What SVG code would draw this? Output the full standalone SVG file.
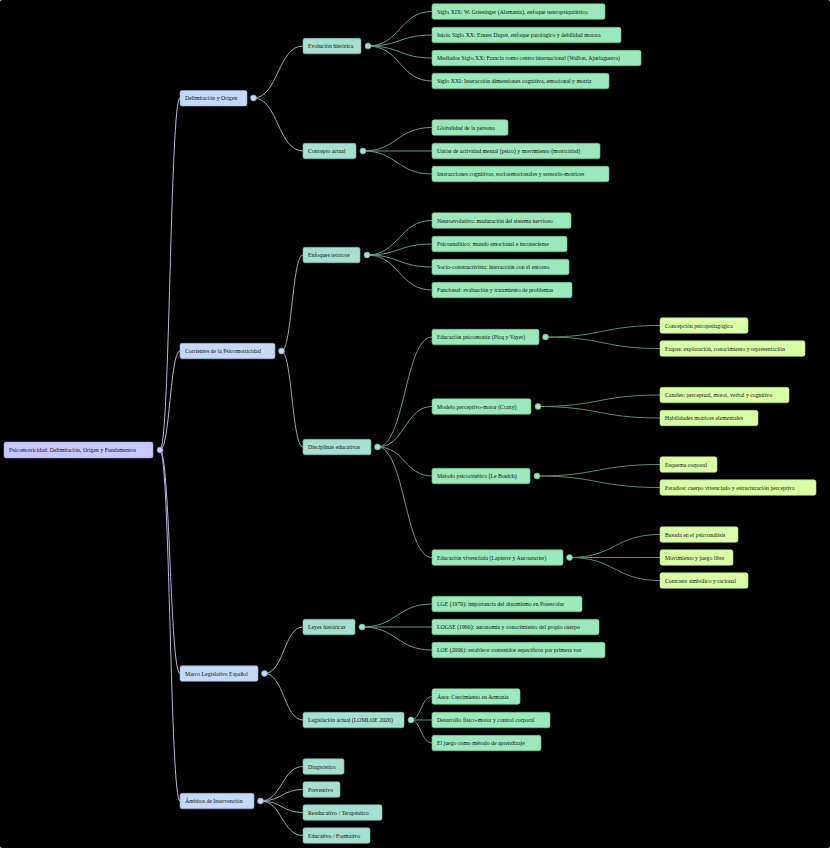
<svg xmlns="http://www.w3.org/2000/svg" width="830" height="848" viewBox="0 0 830 848">
<style>
text{font-family:"Liberation Serif","Times New Roman",serif;font-size:5.8px;fill:#111;dominant-baseline:central}
rect{rx:2;ry:2;stroke-width:0.6}
.r0 rect{fill:#c8c8ff;stroke:#9c9cde}
.r1 rect{fill:#c5d9f6;stroke:#93aed6}
.r2 rect{fill:#a5dfd1;stroke:#78bba9}
.r3 rect{fill:#9ce8bd;stroke:#6cc290}
.r4 rect{fill:#d9ffa7;stroke:#aed677}
circle{stroke-width:0.7}
.r0 circle{fill:#c8c8ff;stroke:#7f7fc0}
.r1 circle{fill:#c5d9f6;stroke:#7f97c0}
.r2 circle{fill:#a5dfd1;stroke:#6aa898}
.r3 circle{fill:#9ce8bd;stroke:#5aa878}
path{fill:none;stroke-width:1}
.l0{stroke:#b8b8de}
.l1{stroke:#9aa8ac}
.l2{stroke:#6f988c}
.l3{stroke:#5f8c6e}
</style>
<rect width="830" height="848" fill="#000"/>
<g id="connectors">
<path class="l0" d="M160,450 C170,450 170,98 180,98"/>
<path class="l0" d="M160,450 C170,450 170,351 180,351"/>
<path class="l0" d="M160,450 C170,450 170,673.5 180,673.5"/>
<path class="l0" d="M160,450 C170,450 170,801 180,801"/>
<path class="l1" d="M253.5,98 C278,98 278,46 303,46"/>
<path class="l1" d="M253.5,98 C278,98 278,151 303,151"/>
<path class="l1" d="M281.5,351 C292,351 292,255 303,255"/>
<path class="l1" d="M281.5,351 C292,351 292,447 303,447"/>
<path class="l1" d="M264.5,673.5 C284,673.5 284,627 303,627"/>
<path class="l1" d="M264.5,673.5 C284,673.5 284,720 303,720"/>
<path class="l1" d="M260.5,801 C282,801 282,766.5 303,766.5"/>
<path class="l1" d="M260.5,801 C282,801 282,789.5 303,789.5"/>
<path class="l1" d="M260.5,801 C282,801 282,812.5 303,812.5"/>
<path class="l1" d="M260.5,801 C282,801 282,835.5 303,835.5"/>
<path class="l2" d="M368,46 C400,46 400,11.5 432,11.5"/>
<path class="l2" d="M368,46 C400,46 400,35 432,35"/>
<path class="l2" d="M368,46 C400,46 400,58 432,58"/>
<path class="l2" d="M368,46 C400,46 400,81 432,81"/>
<path class="l2" d="M363,151 C397,151 397,127.5 432,127.5"/>
<path class="l2" d="M363,151 C397,151 397,151 432,151"/>
<path class="l2" d="M363,151 C397,151 397,174 432,174"/>
<path class="l2" d="M367,255 C399,255 399,220.5 432,220.5"/>
<path class="l2" d="M367,255 C399,255 399,244 432,244"/>
<path class="l2" d="M367,255 C399,255 399,267 432,267"/>
<path class="l2" d="M367,255 C399,255 399,290 432,290"/>
<path class="l2" d="M377.5,447 C405,447 405,337 432,337"/>
<path class="l2" d="M377.5,447 C405,447 405,406.5 432,406.5"/>
<path class="l2" d="M377.5,447 C405,447 405,476 432,476"/>
<path class="l2" d="M377.5,447 C405,447 405,557.5 432,557.5"/>
<path class="l2" d="M362,627 C397,627 397,604 432,604"/>
<path class="l2" d="M362,627 C397,627 397,627 432,627"/>
<path class="l2" d="M362,627 C397,627 397,650 432,650"/>
<path class="l2" d="M411,720 C421,720 421,696.5 432,696.5"/>
<path class="l2" d="M411,720 C421,720 421,720 432,720"/>
<path class="l2" d="M411,720 C421,720 421,743 432,743"/>
<path class="l3" d="M545.5,337 C603,337 603,325.5 660,325.5"/>
<path class="l3" d="M545.5,337 C603,337 603,348.5 660,348.5"/>
<path class="l3" d="M538,406.5 C599,406.5 599,395 660,395"/>
<path class="l3" d="M538,406.5 C599,406.5 599,418 660,418"/>
<path class="l3" d="M537,476 C598,476 598,464.5 660,464.5"/>
<path class="l3" d="M537,476 C598,476 598,487.5 660,487.5"/>
<path class="l3" d="M569.5,557.5 C615,557.5 615,534.5 660,534.5"/>
<path class="l3" d="M569.5,557.5 C615,557.5 615,557.5 660,557.5"/>
<path class="l3" d="M569.5,557.5 C615,557.5 615,580.5 660,580.5"/>
</g>
<g id="root" class="r0"><rect x="4" y="442" width="149" height="16"/><text x="9" y="450">Psicomotricidad: Delimitación, Origen y Fundamentos</text><circle cx="160" cy="450" r="3"/></g>
<g id="n-delim" class="r1"><rect x="180" y="90.5" width="67" height="15.5"/><text x="185" y="98">Delimitación y Origen</text><circle cx="253.5" cy="98" r="3"/></g>
<g id="n-corr" class="r1"><rect x="180" y="343.3" width="95" height="15.5"/><text x="185" y="351">Corrientes de la Psicomotricidad</text><circle cx="281.5" cy="351" r="3"/></g>
<g id="n-marco" class="r1"><rect x="180" y="665.8" width="78" height="15.5"/><text x="185" y="673.5">Marco Legislativo Español</text><circle cx="264.5" cy="673.5" r="3"/></g>
<g id="n-ambitos" class="r1"><rect x="180" y="793.3" width="74" height="15.5"/><text x="185" y="801">Ámbitos de Intervención</text><circle cx="260.5" cy="801" r="3"/></g>
<g id="n-evol" class="r2"><rect x="303" y="38.3" width="58" height="15.5"/><text x="308" y="46">Evolución histórica</text><circle cx="368" cy="46" r="3"/></g>
<g id="n-conc" class="r2"><rect x="303" y="143.3" width="53" height="15.5"/><text x="308" y="151">Concepto actual</text><circle cx="363" cy="151" r="3"/></g>
<g id="n-enf" class="r2"><rect x="303" y="247.3" width="57" height="15.5"/><text x="308" y="255">Enfoques teóricos</text><circle cx="367" cy="255" r="3"/></g>
<g id="n-disc" class="r2"><rect x="303" y="439.3" width="68" height="15.5"/><text x="308" y="447">Disciplinas educativas</text><circle cx="377.5" cy="447" r="3"/></g>
<g id="n-leyes" class="r2"><rect x="303" y="619.3" width="52" height="15.5"/><text x="308" y="627">Leyes históricas</text><circle cx="362" cy="627" r="3"/></g>
<g id="n-legis" class="r2"><rect x="303" y="712.3" width="101" height="15.5"/><text x="308" y="720">Legislación actual (LOMLOE 2020)</text><circle cx="411" cy="720" r="3"/></g>
<g id="n-diag" class="r2"><rect x="303" y="758.8" width="41" height="15.5"/><text x="308" y="766.5">Diagnóstico</text></g>
<g id="n-prev" class="r2"><rect x="303" y="781.8" width="37" height="15.5"/><text x="308" y="789.5">Preventivo</text></g>
<g id="n-reed" class="r2"><rect x="303" y="804.8" width="79" height="15.5"/><text x="308" y="812.5">Reeducativo / Terapéutico</text></g>
<g id="n-educ" class="r2"><rect x="303" y="827.8" width="67" height="15.5"/><text x="308" y="835.5">Educativo / Formativo</text></g>
<g id="n-e1" class="r3"><rect x="432" y="3.8" width="173" height="15.5"/><text x="437" y="11.5">Siglo XIX: W. Griesinger (Alemania), enfoque neuropsiquiátrico</text></g>
<g id="n-e2" class="r3"><rect x="432" y="27.3" width="189" height="15.5"/><text x="437" y="35">Inicio Siglo XX: Ernest Dupré, enfoque patológico y debilidad motora</text></g>
<g id="n-e3" class="r3"><rect x="432" y="50.3" width="209" height="15.5"/><text x="437" y="58">Mediados Siglo XX: Francia como centro internacional (Wallon, Ajuriaguerra)</text></g>
<g id="n-e4" class="r3"><rect x="432" y="73.3" width="177" height="15.5"/><text x="437" y="81">Siglo XXI: Interacción dimensiones cognitiva, emocional y motriz</text></g>
<g id="n-c1" class="r3"><rect x="432" y="119.8" width="76" height="15.5"/><text x="437" y="127.5">Globalidad de la persona</text></g>
<g id="n-c2" class="r3"><rect x="432" y="143.3" width="168" height="15.5"/><text x="437" y="151">Unión de actividad mental (psico) y movimiento (motricidad)</text></g>
<g id="n-c3" class="r3"><rect x="432" y="166.3" width="177" height="15.5"/><text x="437" y="174">Interacciones cognitivas, socioemocionales y sensorio-motrices</text></g>
<g id="n-f1" class="r3"><rect x="432" y="212.8" width="139" height="15.5"/><text x="437" y="220.5">Neuroevolutivo: maduración del sistema nervioso</text></g>
<g id="n-f2" class="r3"><rect x="432" y="236.3" width="135" height="15.5"/><text x="437" y="244">Psicoanalítico: mundo emocional e inconsciente</text></g>
<g id="n-f3" class="r3"><rect x="432" y="259.3" width="137" height="15.5"/><text x="437" y="267">Socio-constructivista: interacción con el entorno</text></g>
<g id="n-f4" class="r3"><rect x="432" y="282.3" width="140" height="15.5"/><text x="437" y="290">Funcional: evaluación y tratamiento de problemas</text></g>
<g id="n-d1" class="r3"><rect x="432" y="329.3" width="107" height="15.5"/><text x="437" y="337">Educación psicomotriz (Picq y Vayer)</text><circle cx="545.5" cy="337" r="3"/></g>
<g id="n-d2" class="r3"><rect x="432" y="398.8" width="99" height="15.5"/><text x="437" y="406.5">Modelo perceptivo-motor (Cratty)</text><circle cx="538" cy="406.5" r="3"/></g>
<g id="n-d3" class="r3"><rect x="432" y="468.3" width="98" height="15.5"/><text x="437" y="476">Método psicocinético (Le Boulch)</text><circle cx="537" cy="476" r="3"/></g>
<g id="n-d4" class="r3"><rect x="432" y="549.8" width="131" height="15.5"/><text x="437" y="557.5">Educación vivenciada (Lapierre y Aucouturier)</text><circle cx="569.5" cy="557.5" r="3"/></g>
<g id="n-p1" class="r4"><rect x="660" y="317.8" width="88" height="15.5"/><text x="665" y="325.5">Concepción psicopedagógica</text></g>
<g id="n-p2" class="r4"><rect x="660" y="340.8" width="145" height="15.5"/><text x="665" y="348.5">Etapas: exploración, conocimiento y representación</text></g>
<g id="n-k1" class="r4"><rect x="660" y="387.3" width="129" height="15.5"/><text x="665" y="395">Canales: perceptual, motor, verbal y cognitivo</text></g>
<g id="n-k2" class="r4"><rect x="660" y="410.3" width="98" height="15.5"/><text x="665" y="418">Habilidades motrices elementales</text></g>
<g id="n-b1" class="r4"><rect x="660" y="456.8" width="57" height="15.5"/><text x="665" y="464.5">Esquema corporal</text></g>
<g id="n-b2" class="r4"><rect x="660" y="479.8" width="156" height="15.5"/><text x="665" y="487.5">Estadios: cuerpo vivenciado y estructuración perceptiva</text></g>
<g id="n-v1" class="r4"><rect x="660" y="526.8" width="78" height="15.5"/><text x="665" y="534.5">Basada en el psicoanálisis</text></g>
<g id="n-v2" class="r4"><rect x="660" y="549.8" width="73" height="15.5"/><text x="665" y="557.5">Movimiento y juego libre</text></g>
<g id="n-v3" class="r4"><rect x="660" y="572.8" width="88" height="15.5"/><text x="665" y="580.5">Contraste simbólico y racional</text></g>
<g id="n-l1" class="r3"><rect x="432" y="596.3" width="150" height="15.5"/><text x="437" y="604">LGE (1970): importancia del dinamismo en Preescolar</text></g>
<g id="n-l2" class="r3"><rect x="432" y="619.3" width="167" height="15.5"/><text x="437" y="627">LOGSE (1990): autonomía y conocimiento del propio cuerpo</text></g>
<g id="n-l3" class="r3"><rect x="432" y="642.3" width="173" height="15.5"/><text x="437" y="650">LOE (2006): establece contenidos específicos por primera vez</text></g>
<g id="n-g1" class="r3"><rect x="432" y="688.8" width="88" height="15.5"/><text x="437" y="696.5">Área: Crecimiento en Armonía</text></g>
<g id="n-g2" class="r3"><rect x="432" y="712.3" width="118" height="15.5"/><text x="437" y="720">Desarrollo físico-motor y control corporal</text></g>
<g id="n-g3" class="r3"><rect x="432" y="735.3" width="109" height="15.5"/><text x="437" y="743">El juego como método de aprendizaje</text></g>
</svg>
